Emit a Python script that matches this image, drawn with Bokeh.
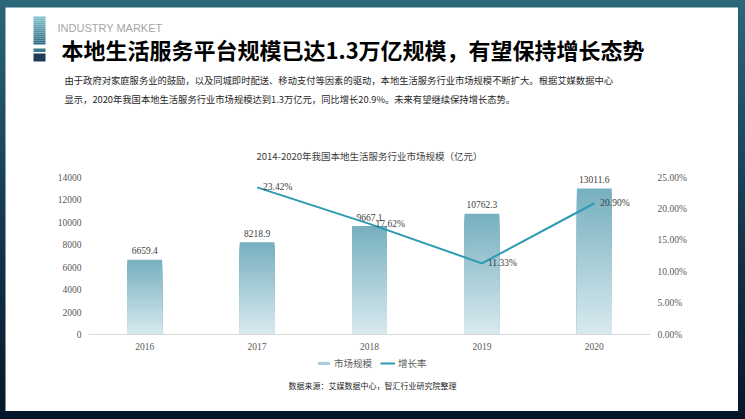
from bokeh.plotting import figure
from bokeh.models import Range1d, Legend, LegendItem, ColumnDataSource
from bokeh.layouts import column
from bokeh.core.properties import value
from bokeh.embed import file_html
from bokeh.resources import INLINE

# ---------------- data ----------------
years = ["2016", "2017", "2018", "2019", "2020"]
market_size = [6659.4, 8218.9, 9667.1, 10762.3, 13011.6]
rate_years = ["2017", "2018", "2019", "2020"]
growth_rate = [23.42, 17.62, 11.33, 20.90]
left_ticks = [0, 2000, 4000, 6000, 8000, 10000, 12000, 14000]
right_ticks = [0, 5, 10, 15, 20, 25]

header_small = "INDUSTRY MARKET"
header_title = "本地生活服务平台规模已达1.3万亿规模，有望保持增长态势"
para_1 = "由于政府对家庭服务业的鼓励，以及同城即时配送、移动支付等因素的驱动，本地生活服务行业市场规模不断扩大。根据艾媒数据中心"
para_2 = "显示，2020年我国本地生活服务行业市场规模达到1.3万亿元，同比增长20.9%。未来有望继续保持增长态势。"
chart_title = "2014-2020年我国本地生活服务行业市场规模（亿元）"
source_note = "数据来源：艾媒数据中心，智汇行业研究院整理"
legend_labels = ["市场规模", "增长率"]

CJK = "Noto Sans CJK SC"
SERIF = "Liberation Serif"


def mix(c1, c2, t):
    a = [int(c1[i:i + 2], 16) for i in (1, 3, 5)]
    b = [int(c2[i:i + 2], 16) for i in (1, 3, 5)]
    return "#%02x%02x%02x" % tuple(round(a[k] + (b[k] - a[k]) * t) for k in range(3))


# ---- page geometry (pixels) ----
PX0, PX1, PY0, PY1 = 5, 738, 7, 411          # white panel = plot frame
CX0, CX1, CY0, CY1 = 88, 650, 177, 334       # chart plot area
VMAX, RMAX = 14000, 25

p = figure(width=PX1 - PX0, height=PY1 - PY0, output_backend="svg", toolbar_location=None,
           x_range=Range1d(PX0, PX1), y_range=Range1d(PY1, PY0),
           x_axis_location=None, y_axis_location=None, min_border=0,
           margin=(PY0, 745 - PX1, 419 - PY1, PX0),
           border_fill_color="white", background_fill_color="white", outline_line_color=None)
p.xgrid.visible = False
p.ygrid.visible = False

ncat = len(years)
ux = (CX1 - CX0) / ncat
uv = (CY1 - CY0) / VMAX
ur = (CY1 - CY0) / RMAX
p.extra_x_ranges = {"cat": Range1d(-(CX0 - PX0) / ux, ncat + (PX1 - CX1) / ux)}
p.extra_y_ranges = {"val": Range1d(-(PY1 - CY1) / uv, VMAX + (CY0 - PY0) / uv),
                    "rate": Range1d(-(PY1 - CY1) / ur, RMAX + (CY0 - PY0) / ur)}

cat_x = [i + 0.5 for i in range(ncat)]
rate_x = [years.index(y) + 0.5 for y in rate_years]

# ---- header decoration ----
steps = 14
seg = [(16 + 28 * k / steps, 16 + 28 * (k + 1) / steps) for k in range(steps)]
p.quad(left=33, right=45, top=[s[0] for s in seg], bottom=[s[1] for s in seg],
       fill_color=[mix("#86c3d0", "#2b677d", (k + 0.5) / steps) for k in range(steps)],
       line_color=None)
p.quad(left=33, right=45, top=48, bottom=51.5, fill_color="#3a7b92", line_color=None)
p.quad(left=33, right=45, top=53, bottom=61, fill_color="#1c3c57", line_color=None)

p.text(x=[57], y=[27], text=[header_small], text_font=value("Liberation Sans"),
       text_font_size="11px", text_color="#a6a6a6", text_baseline="alphabetic")
p.text(x=[61], y=[48], text=[header_title], text_font=value(CJK), text_font_size="22px",
       text_font_style="bold", text_color="#000000", text_baseline="middle")
p.text(x=[64, 64], y=[79, 98], text=[para_1, para_2], text_font=value(CJK),
       text_font_size="9.3px", text_color="#262626", text_baseline="middle")
p.text(x=[(CX0 + CX1) / 2], y=[155], text=[chart_title], text_font=value(CJK),
       text_font_size="9.5px", text_color="#404040", text_baseline="middle", text_align="center")
p.text(x=[372], y=[385], text=[source_note], text_font=value(CJK), text_font_size="8px",
       text_color="#262626", text_baseline="middle", text_align="center")

# ---- bars with a vertical gradient: nested bars from 0, tallest (darkest) first ----
N = 40
TOP_C, BOT_C = "#76afbf", "#d9eaef"
xs, tops, cols = [], [], []
for k in range(N, 0, -1):
    for cx, v in zip(cat_x, market_size):
        xs.append(cx)
        tops.append(v * k / N)
        cols.append(mix(BOT_C, TOP_C, (k - 0.5) / N))
bar_src = ColumnDataSource(dict(x=xs, top=tops, color=cols))
r_bar = p.vbar(x="x", bottom=0, top="top", width=0.31, fill_color="color", line_color=None,
               source=bar_src, x_range_name="cat", y_range_name="val")

p.text(x=cat_x, y=market_size, text=[f"{v:.1f}" for v in market_size],
       x_range_name="cat", y_range_name="val",
       text_align="center", text_baseline="middle", y_offset=-9,
       text_font=value(SERIF), text_font_size="9.5px", text_color="#404040")

# ---- growth-rate line ----
r_line = p.line(x=rate_x, y=growth_rate, x_range_name="cat", y_range_name="rate",
                line_color="#2b9ab2", line_width=2)
p.text(x=rate_x, y=growth_rate, text=[f"{v:.2f}%" for v in growth_rate],
       x_range_name="cat", y_range_name="rate", x_offset=6,
       text_align="left", text_baseline="middle",
       text_font=value(SERIF), text_font_size="9.5px", text_color="#404040")

# ---- axes (baseline + tick labels placed through the scales) ----
p.segment(x0=[0], x1=[ncat], y0=[0], y1=[0], x_range_name="cat", y_range_name="val",
          line_color="#d9d9d9", line_width=1)
p.text(x=[CX0 - 7] * len(left_ticks), y=left_ticks, text=[str(t) for t in left_ticks],
       y_range_name="val", text_align="right", text_baseline="middle",
       text_font=value(SERIF), text_font_size="9.5px", text_color="#595959")
p.text(x=[CX1 + 7] * len(right_ticks), y=right_ticks, text=[f"{t:.2f}%" for t in right_ticks],
       y_range_name="rate", text_align="left", text_baseline="middle",
       text_font=value(SERIF), text_font_size="9.5px", text_color="#595959")
p.text(x=cat_x, y=[CY1 + 12] * ncat, text=years, x_range_name="cat",
       text_align="center", text_baseline="middle",
       text_font=value(SERIF), text_font_size="9.5px", text_color="#595959")

# ---- legend ----
legend = Legend(items=[LegendItem(label=legend_labels[0], renderers=[r_bar], index=N * ncat // 2),
                       LegendItem(label=legend_labels[1], renderers=[r_line])],
                orientation="horizontal", location=(316 - PX0, PY1 - 372), padding=0, margin=0,
                spacing=8, glyph_width=15, glyph_height=4, label_standoff=3, label_height=18,
                label_text_font=CJK, label_text_font_size="9.5px", label_text_color="#595959",
                background_fill_alpha=0, border_line_color=None)
p.add_layout(legend, "center")

page = column(p, width=745, height=419,
              styles={"background": "linear-gradient(180deg, #2c677a 0%, #163a50 50%, #06162a 100%)"})

open("out.html", "w").write(file_html(page, INLINE))
